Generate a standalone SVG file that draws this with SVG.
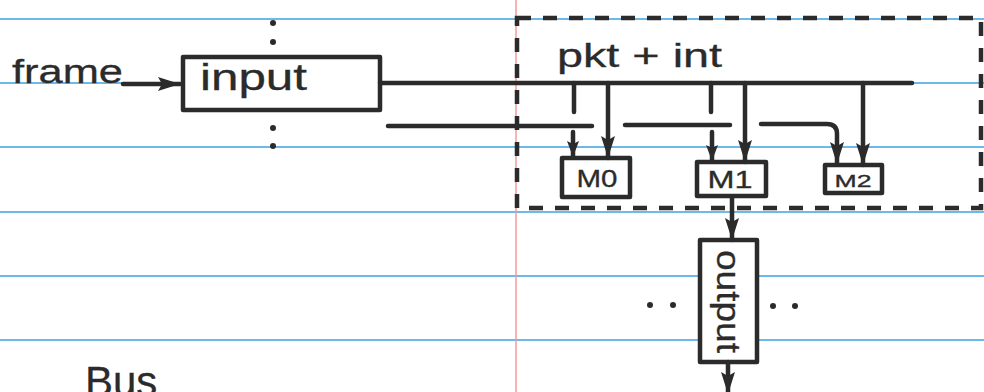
<svg xmlns="http://www.w3.org/2000/svg" width="984" height="392" viewBox="0 0 984 392">
<style>
  .paper { stroke: #6cb9ea; stroke-width: 2; fill: none; }
  .margin { stroke: #f39a9a; stroke-width: 1.5; fill: none; }
  .box { fill: #ffffff; stroke: #2b2b2b; stroke-width: 4.5; stroke-linejoin: round; }
  .dash { fill: none; stroke: #2b2b2b; stroke-width: 4.5; stroke-dasharray: 14 12; }
  .wire { fill: none; stroke: #2b2b2b; stroke-width: 4.5; stroke-linecap: round; stroke-linejoin: round; }
  .txt { font-family: "Liberation Sans", "DejaVu Sans", sans-serif; fill: #2b2b2b; stroke: #2b2b2b; stroke-width: 0.3; }
  .dot { fill: #2b2b2b; }
</style>
<defs>
  <marker id="big" markerUnits="userSpaceOnUse" markerWidth="24" markerHeight="16" refX="22" refY="7" orient="auto">
    <path d="M0,0 L22,7 L0,14 L4,7 z" fill="#2b2b2b"/>
  </marker>
  <marker id="small" markerUnits="userSpaceOnUse" markerWidth="18" markerHeight="14" refX="16" refY="6" orient="auto">
    <path d="M0,0 L16,6 L0,12 L3,6 z" fill="#2b2b2b"/>
  </marker>
</defs>
<rect x="0" y="0" width="984" height="392" fill="#ffffff"/>
<g id="paper">
  <line class="paper" x1="0" y1="19" x2="984" y2="19"/>
  <line class="paper" x1="0" y1="83" x2="984" y2="83"/>
  <line class="paper" x1="0" y1="147" x2="984" y2="147"/>
  <line class="paper" x1="0" y1="212" x2="984" y2="212"/>
  <line class="paper" x1="0" y1="276" x2="984" y2="276"/>
  <line class="paper" x1="0" y1="340" x2="984" y2="340"/>
  <line class="margin" x1="516" y1="0" x2="516" y2="392"/>
</g>
<g id="pkt-int-region">
  <rect class="dash" x="517" y="18" width="464" height="190"/>
  <text class="txt" x="557" y="67" font-size="34" textLength="165" lengthAdjust="spacingAndGlyphs">pkt + int</text>
</g>
<g id="frame-label">
  <text class="txt" x="12" y="83" font-size="34" textLength="111" lengthAdjust="spacingAndGlyphs">frame</text>
</g>
<g id="input">
  <rect class="box" x="183" y="57" width="197" height="53"/>
  <text class="txt" x="200" y="90" font-size="36" textLength="107" lengthAdjust="spacingAndGlyphs">input</text>
</g>
<g id="input-dots">
  <circle class="dot" cx="273" cy="23" r="3"/>
  <circle class="dot" cx="273" cy="42" r="3"/>
  <circle class="dot" cx="273" cy="128" r="3"/>
  <circle class="dot" cx="273" cy="146" r="3"/>
</g>
<g id="M0">
  <rect class="box" x="562" y="158" width="68" height="39"/>
  <text class="txt" x="597" y="187" font-size="24" text-anchor="middle" textLength="41" lengthAdjust="spacingAndGlyphs">M0</text>
</g>
<g id="M1">
  <rect class="box" x="697" y="162" width="69" height="34"/>
  <text class="txt" x="730" y="188" font-size="24" text-anchor="middle" textLength="45" lengthAdjust="spacingAndGlyphs">M1</text>
</g>
<g id="M2">
  <rect class="box" x="825" y="165" width="57" height="28"/>
  <text class="txt" x="853" y="187" font-size="17" text-anchor="middle" textLength="37" lengthAdjust="spacingAndGlyphs">M2</text>
</g>
<g id="output">
  <rect class="box" x="700" y="240" width="57" height="122"/>
  <text class="txt" transform="translate(717,250) rotate(90)" x="0" y="0" font-size="34" textLength="103" lengthAdjust="spacingAndGlyphs">output</text>
</g>
<g id="output-dots">
  <circle class="dot" cx="650" cy="305" r="3"/>
  <circle class="dot" cx="673" cy="305" r="3"/>
  <circle class="dot" cx="773" cy="306" r="3"/>
  <circle class="dot" cx="795" cy="306" r="3"/>
</g>
<g id="connectors">
  <path class="wire" d="M123,84 H180" marker-end="url(#big)"/>
  <path class="wire" d="M380,83 H912"/>
  <path class="wire" d="M388,126 H592"/>
  <path class="wire" d="M625,125 H730"/>
  <path class="wire" d="M761,124 H827 Q837,124 837,134 V164" marker-end="url(#big)"/>
  <path class="wire" d="M574,83 V112"/>
  <path class="wire" d="M711,83 V112"/>
  <path class="wire" d="M573,132 V157" marker-end="url(#small)"/>
  <path class="wire" d="M712,132 V161" marker-end="url(#small)"/>
  <path class="wire" d="M608,83 V158" marker-end="url(#big)"/>
  <path class="wire" d="M745,83 V162" marker-end="url(#big)"/>
  <path class="wire" d="M863,83 V165" marker-end="url(#big)"/>
  <path class="wire" d="M732,197 V240" marker-end="url(#big)"/>
  <path class="wire" d="M728,362 V394" marker-end="url(#big)"/>
</g>
<g id="bus-label">
  <text class="txt" x="85" y="396" font-size="42">Bus</text>
</g>
</svg>
